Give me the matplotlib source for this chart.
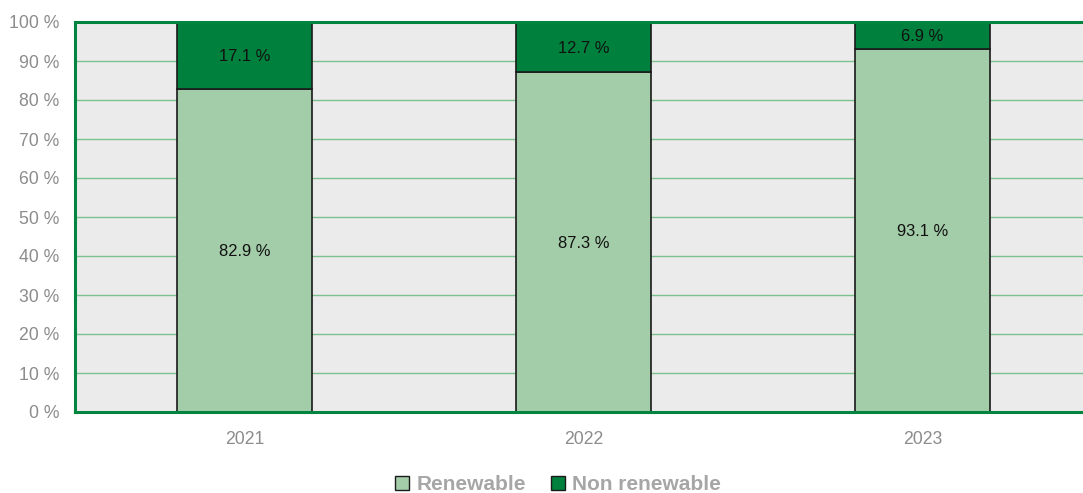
import matplotlib
matplotlib.use("Agg")
import matplotlib.pyplot as plt
from matplotlib.patches import Patch
import numpy as np

years = ["2021", "2022", "2023"]
renewable = [82.9, 87.3, 93.1]
non_renewable = [17.1, 12.7, 6.9]
y_ticks = [0, 10, 20, 30, 40, 50, 60, 70, 80, 90, 100]

LIGHT = "#a3cca8"
DARK = "#00803d"
AXIS = "#00843f"
GRID = "#7cc28f"
BG = "#ebebeb"
GREY = "#8c8c8c"

plt.rcParams["font.family"] = ["Liberation Sans", "DejaVu Sans"]

fig = plt.figure(figsize=(10.83, 4.93), dpi=100)
ax = fig.add_axes([75 / 1083, 81 / 493, 3 * 339 / 1083, 390 / 493])
ax.set_facecolor(BG)

x = np.arange(len(years))
w = 0.40
ax.bar(x, renewable, width=w, color=LIGHT, edgecolor="#1a1a1a", linewidth=1.2, zorder=3)
ax.bar(x, non_renewable, width=w, bottom=renewable, color=DARK, edgecolor="#1a1a1a",
       linewidth=1.2, zorder=3)

for xi, r, n in zip(x, renewable, non_renewable):
    ax.text(xi, r / 2, f"{r:.1f} %", ha="center", va="center_baseline", fontsize=11.9,
            color="#111111", zorder=4)
    ax.text(xi, r + n / 2, f"{n:.1f} %", ha="center", va="center_baseline", fontsize=11.9,
            color="#111111", zorder=4)

ax.set_xlim(-0.5, 2.5)
ax.set_ylim(0, 100)
ax.set_yticks(y_ticks)
ax.set_yticklabels([f"{t} %" for t in y_ticks])
ax.set_xticks(x)
ax.set_xticklabels(years)
ax.tick_params(axis="y", length=0, pad=11, labelsize=12.7, labelcolor=GREY)
ax.tick_params(axis="x", length=0, pad=14, labelsize=12.7, labelcolor=GREY)

ax.yaxis.grid(True, color=GRID, linewidth=1.0, zorder=1)
ax.set_axisbelow(True)

for side in ["left", "bottom", "top"]:
    ax.spines[side].set_color(AXIS)
    ax.spines[side].set_linewidth(2.2)
    ax.spines[side].set_zorder(5)
ax.spines["right"].set_visible(False)

handles = [Patch(facecolor=LIGHT, edgecolor="#1a1a1a", linewidth=1.0, label="Renewable"),
           Patch(facecolor=DARK, edgecolor="#1a1a1a", linewidth=1.0, label="Non renewable")]
leg = fig.legend(handles=handles, loc="center", bbox_to_anchor=(558 / 1083, 1 - 485 / 493),
                 ncol=2, frameon=False, handlelength=0.68, handleheight=0.68, handletextpad=0.35,
                 columnspacing=1.2, prop={"weight": "bold", "size": 15})
for t in leg.get_texts():
    t.set_color("#a6a6a6")

fig.savefig("out.png", dpi=100)
